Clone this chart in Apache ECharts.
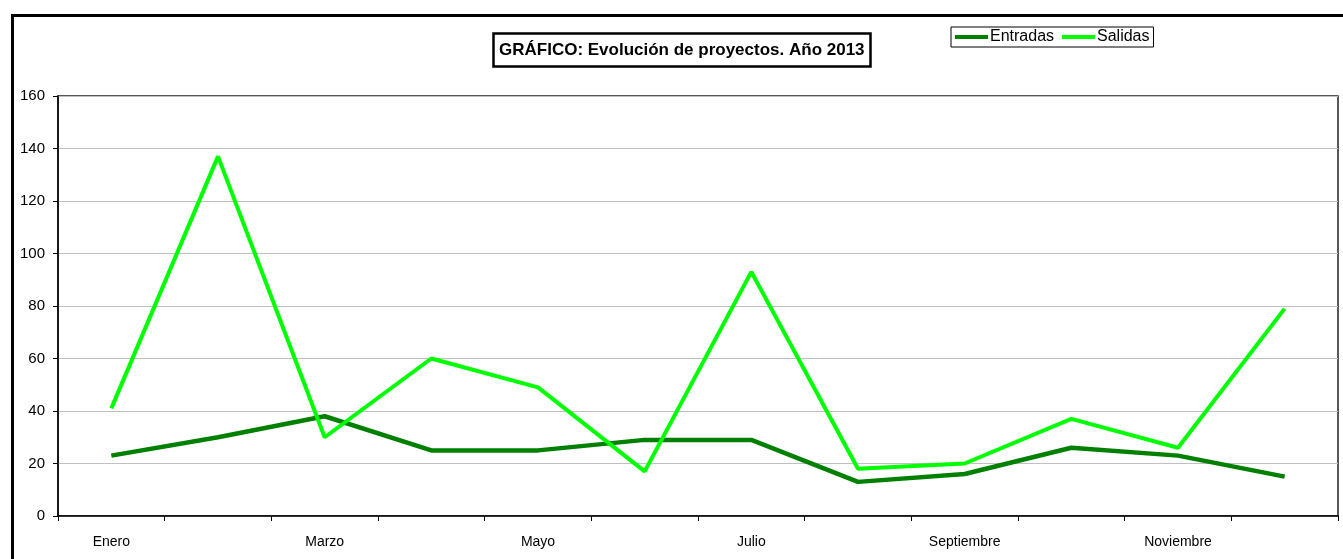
<!DOCTYPE html>
<html>
<head>
<meta charset="utf-8">
<script src="https://cdn.jsdelivr.net/npm/echarts@6/dist/echarts.min.js"></script>
<style>
html,body{margin:0;padding:0;background:#fff;}
#c{width:1343px;height:559px;}
</style>
</head>
<body>
<div id="c"></div>
<script>
const categories = ['Enero','Febrero','Marzo','Abril','Mayo','Junio','Julio','Agosto','Septiembre','Octubre','Noviembre','Diciembre'];
const entradas = [23, 30, 38, 25, 25, 29, 29, 13, 16, 26, 23, 15];
const salidas = [41, 137, 30, 60, 49, 17, 93, 18, 20, 37, 26, 79];
const yTicks = { min: 0, max: 160, interval: 20 };

const chart = echarts.init(document.getElementById('c'));
const font = 'Arial, "Liberation Sans", sans-serif';
chart.setOption({
  animation: false,
  backgroundColor: '#fff',
  title: {
    text: 'GRÁFICO: Evolución de proyectos. Año 2013',
    left: 493, top: 33,
    padding: [9, 6, 8, 6],
    borderColor: '#000', borderWidth: 2.5,
    textStyle: { fontFamily: font, fontSize: 17, fontWeight: 'bold', color: '#000' }
  },
  legend: {
    left: 951, top: 27,
    padding: [2, 4, 2, 4],
    borderColor: '#000', borderWidth: 1,
    itemWidth: 33, itemHeight: 4, itemGap: 8,
    icon: 'rect',
    textStyle: { fontFamily: font, fontSize: 16, color: '#000', padding: [0, 0, 0, -3] },
    data: ['Entradas', 'Salidas']
  },
  graphic: [{
    type: 'rect', left: 10, top: 13, silent: true,
    shape: { width: 1400, height: 600 },
    style: { fill: 'none', stroke: '#000', lineWidth: 3 }
  }],
  grid: { left: 58, right: 5, top: 96, bottom: 43, containLabel: false,
    show: true, borderColor: '#222', borderWidth: 1.5, backgroundColor: 'transparent' },
  xAxis: {
    type: 'category', data: categories, boundaryGap: true,
    axisLine: { lineStyle: { color: '#000', width: 1.5 } },
    axisTick: { show: true, length: 5, alignWithLabel: false, interval: 0, lineStyle: { color: '#000' } },
    axisLabel: { interval: 1, margin: 19, fontFamily: font, fontSize: 14, color: '#000' }
  },
  yAxis: {
    type: 'value', min: yTicks.min, max: yTicks.max, interval: yTicks.interval,
    axisLine: { show: true, lineStyle: { color: '#000', width: 1.5 } },
    axisTick: { show: true, length: 5, lineStyle: { color: '#000' } },
    axisLabel: { margin: 13, fontFamily: font, fontSize: 15, color: '#000' },
    splitLine: { show: true, lineStyle: { color: '#c0c0c0', width: 1 } }
  },
  series: [
    { name: 'Entradas', type: 'line', data: entradas, symbol: 'none', color: '#008000',
      lineStyle: { color: '#008000', width: 4.5 } },
    { name: 'Salidas', type: 'line', data: salidas, symbol: 'none', color: '#00ff00',
      lineStyle: { color: '#00ff00', width: 4 } }
  ]
});
</script>
</body>
</html>
